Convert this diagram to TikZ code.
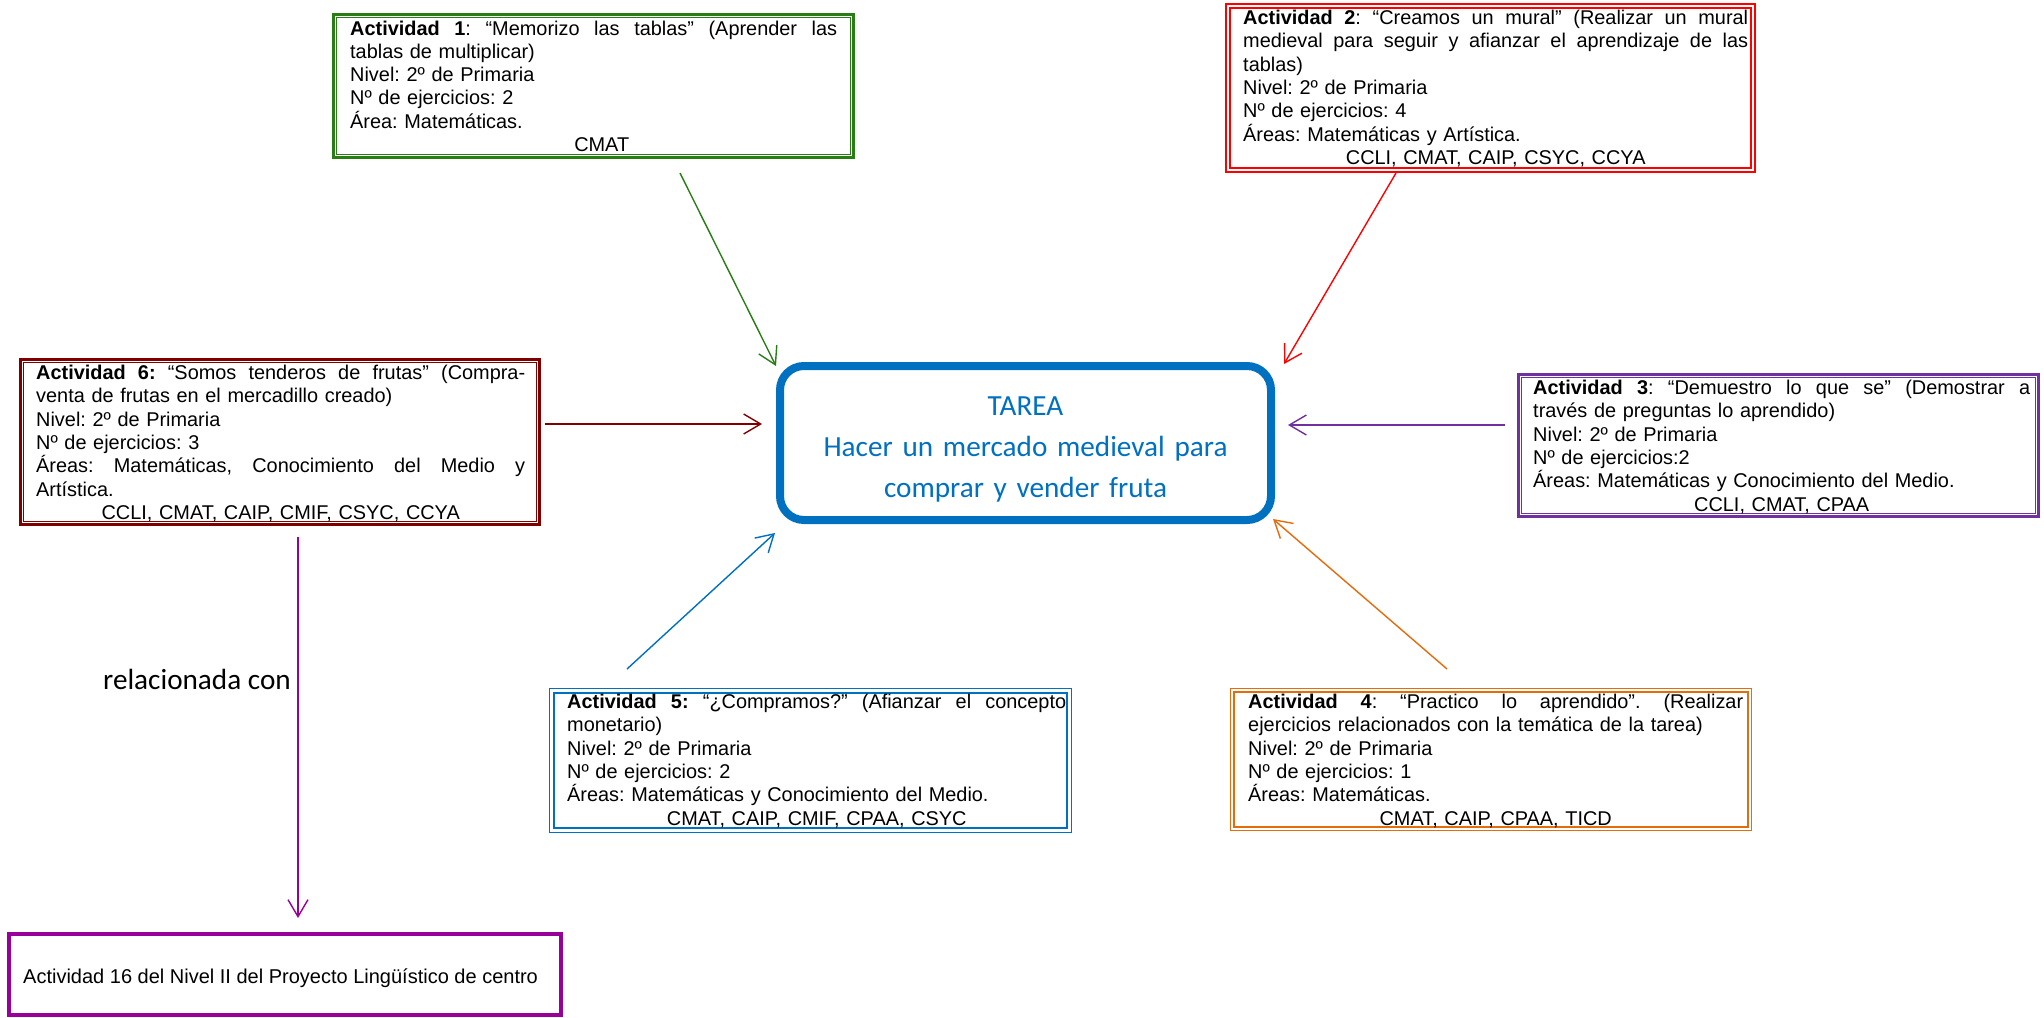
\documentclass[tikz,border=0pt]{standalone}
\usepackage{fontspec}
\setmainfont{Liberation Sans}
\newfontfamily\calibri{Carlito}
\usetikzlibrary{arrows.meta}
\definecolor{cgreen}{RGB}{40,125,20}
\definecolor{cred}{RGB}{255,0,0}
\definecolor{cdark}{RGB}{128,0,0}
\definecolor{cpurple}{RGB}{112,48,160}
\definecolor{cblue}{RGB}{0,112,192}
\definecolor{corange}{RGB}{228,108,10}
\definecolor{cmag}{RGB}{153,0,153}
\newcommand\jusline[1]{\leavevmode\hbox to \linewidth{\spaceskip=0.278em plus 1fil\relax\xspaceskip=\spaceskip #1}}
\newcommand\ctrline[1]{\makebox[\linewidth][c]{#1}}
\tikzset{
  boxtxt/.style={anchor=base west, inner sep=0pt, font=\fontsize{19.9}{23.3}\selectfont\frenchspacing},
  frame/.style={draw, inner sep=0pt, outer sep=0pt},
  conn/.style={line width=1.4pt, -{Straight Barb[length=17pt,width=20pt]}},
}
\begin{document}
\begin{tikzpicture}[x=1pt,y=-1pt]
\fill[white] (0,0) rectangle (2044,1017);
\useasboundingbox (0,0) rectangle (2044,1017);

% central task
\node[frame, draw=cblue, line width=8pt, rounded corners=24pt, minimum width=491pt, minimum height=154pt] (tarea) at (1025.5,443) {};
\node[text=cblue, font=\calibri\fontsize{29.2}{41}\selectfont, text width=480pt, align=center, anchor=base, inner sep=0pt] (tareat) at (1025.5,415) {TAREA\\Hacer un mercado medieval para\\comprar y vender fruta};

% Actividad 1
\node[frame, draw=cgreen, line width=3pt, minimum width=520pt, minimum height=143pt] (b1) at (593.5,86) {};
\draw[cgreen, line width=1.2pt] ([shift={(3.2,3.2)}]b1.north west) rectangle ([shift={(-3.2,-3.2)}]b1.south east);
\node[boxtxt, text width=487pt] (b1t) at (350,35) {\jusline{\textbf{Actividad 1}: “Memorizo las tablas” (Aprender las}\\
tablas de multiplicar)\\
Nivel: 2º de Primaria\\
Nº de ejercicios: 2\\
Área: Matemáticas.\\
\ctrline{\hspace*{16pt}CMAT}};

% Actividad 2
\node[frame, draw=cred, line width=1.4pt, minimum width=529pt, minimum height=168pt] (b2) at (1490.5,88) {};
\draw[cred, line width=1.4pt] ([shift={(4,4)}]b2.north west) rectangle ([shift={(-4,-4)}]b2.south east);
\node[boxtxt, text width=505pt] (b2t) at (1243,24.5) {\jusline{\textbf{Actividad 2}: “Creamos un mural” (Realizar un mural}\\
\jusline{medieval para seguir y afianzar el aprendizaje de las}\\
tablas)\\
Nivel: 2º de Primaria\\
Nº de ejercicios: 4\\
Áreas: Matemáticas y Artística.\\
\ctrline{CCLI, CMAT, CAIP, CSYC, CCYA}};

% Actividad 6
\node[frame, draw=cdark, line width=2.7pt, minimum width=519pt, minimum height=165pt] (b6) at (280,442) {};
\draw[cdark, line width=1pt] ([shift={(3.2,3.2)}]b6.north west) rectangle ([shift={(-3.2,-3.2)}]b6.south east);
\node[boxtxt, text width=489pt] (b6t) at (36,379.5) {\jusline{\textbf{Actividad 6:} “Somos tenderos de frutas” (Compra-}\\
venta de frutas en el mercadillo creado)\\
Nivel: 2º de Primaria\\
Nº de ejercicios: 3\\
\jusline{Áreas: Matemáticas, Conocimiento del Medio y}\\
Artística.\\
\ctrline{CCLI, CMAT, CAIP, CMIF, CSYC, CCYA}};

% Actividad 3
\node[frame, draw=cpurple, line width=2.5pt, minimum width=520pt, minimum height=142pt] (b3) at (1778.5,445.5) {};
\draw[cpurple, line width=1pt] ([shift={(3.2,3.2)}]b3.north west) rectangle ([shift={(-3.2,-3.2)}]b3.south east);
\node[boxtxt, text width=497pt] (b3t) at (1533,394.5) {\jusline{\textbf{Actividad 3}: “Demuestro lo que se” (Demostrar a}\\
través de preguntas lo aprendido)\\
Nivel: 2º de Primaria\\
Nº de ejercicios:2\\
Áreas: Matemáticas y Conocimiento del Medio.\\
\ctrline{CCLI, CMAT, CPAA}};

% Actividad 5
\node[frame, draw=cblue, line width=1.8pt, minimum width=522pt, minimum height=144pt] (b5) at (810.5,760.5) {};
\draw[cblue, line width=1.8pt] ([shift={(4.2,4.2)}]b5.north west) rectangle ([shift={(-4.2,-4.2)}]b5.south east);
\node[boxtxt, text width=499pt] (b5t) at (567,708.5) {\jusline{\textbf{Actividad 5:} “¿Compramos?” (Afianzar el concepto}\\
monetario)\\
Nivel: 2º de Primaria\\
Nº de ejercicios: 2\\
Áreas: Matemáticas y Conocimiento del Medio.\\
\ctrline{CMAT, CAIP, CMIF, CPAA, CSYC}};

% Actividad 4
\node[frame, draw=corange, line width=1.3pt, minimum width=521pt, minimum height=142pt] (b4) at (1491,759.5) {};
\draw[corange, line width=2.7pt] ([shift={(3.6,3.6)}]b4.north west) rectangle ([shift={(-3.6,-3.6)}]b4.south east);
\node[boxtxt, text width=495pt] (b4t) at (1248,708.5) {\jusline{\textbf{Actividad 4}: “Practico lo aprendido”. (Realizar}\\
ejercicios relacionados con la temática de la tarea)\\
Nivel: 2º de Primaria\\
Nº de ejercicios: 1\\
Áreas: Matemáticas.\\
\ctrline{CMAT, CAIP, CPAA, TICD}};

% Actividad 16
\node[frame, draw=cmag, line width=4pt, minimum width=552pt, minimum height=81pt] (b16) at (285,974.5) {};
\node[anchor=base west, inner sep=0pt, font=\fontsize{20}{23}\selectfont] (b16t) at (23,983) {Actividad 16 del Nivel II del Proyecto Lingüístico de centro};

% label
\node[anchor=base west, inner sep=0pt, font=\calibri\fontsize{29.2}{35}\selectfont] (rel) at (103,689) {relacionada con};

% connectors
\draw[conn, cgreen] ([shift={(86.5,15.5)}]b1.south) -- ([shift={(-4,0)}]tarea.north west);
\draw[conn, cred] ([shift={(-94.5,1)}]b2.south) -- ([shift={(13,-2)}]tarea.north east);
\draw[conn, cdark] ([shift={(5.5,-18)}]b6.east) -- ([shift={(-18,-19)}]tarea.west);
\draw[conn, cpurple] ([shift={(-13.5,-20.5)}]b3.west) -- ([shift={(17,-18)}]tarea.east);
\draw[conn, cblue] ([shift={(-183.5,-19.5)}]b5.north) -- ([shift={(-5,13)}]tarea.south west);
\draw[conn, corange] ([shift={(-44,-19.5)}]b4.north) -- ([shift={(2,-1)}]tarea.south east);
\draw[conn, cmag] ([shift={(18,12.5)}]b6.south) -- ([shift={(13,-16)}]b16.north);
\end{tikzpicture}
\end{document}
